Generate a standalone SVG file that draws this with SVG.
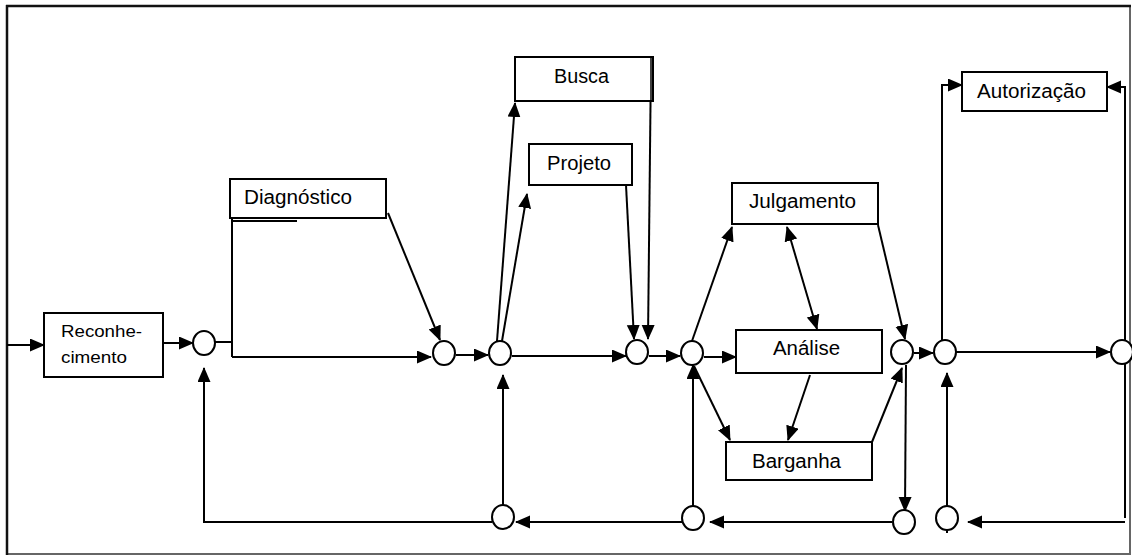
<svg xmlns="http://www.w3.org/2000/svg" width="1132" height="556" viewBox="0 0 1132 556">
  <defs>
    <marker id="arrow" markerUnits="userSpaceOnUse" markerWidth="16" markerHeight="14" refX="14" refY="6.5" orient="auto-start-reverse">
      <path d="M0,0 L15,6.5 L0,13 z" fill="#000"/>
    </marker>
    <style>
      .box { fill: #fff; stroke: #000; stroke-width: 2; }
      .node { fill: #fff; stroke: #000; stroke-width: 2; }
      .lbl { font-family: "Liberation Sans", Arial, sans-serif; font-size: 20px; fill: #000; }
      .small { font-size: 16px; }
      .wire { fill: none; stroke: #000; stroke-width: 2; }
      .arr { marker-end: url(#arrow); }
      .both { marker-start: url(#arrow); marker-end: url(#arrow); }
    </style>
  </defs>
  <rect width="1132" height="556" fill="#fff"/>

  <!-- frame -->
  <g id="frame">
    <line x1="1130" y1="6" x2="1130" y2="555" stroke="#666" stroke-width="2"/>
    <line x1="7" y1="554" x2="1131" y2="554" stroke="#666" stroke-width="2"/>
    <line x1="6" y1="6" x2="1131" y2="6" stroke="#111" stroke-width="2.5"/>
    <line x1="7" y1="5" x2="7" y2="555" stroke="#111" stroke-width="2.5"/>
  </g>

  <!-- connectors -->
  <g id="connectors" class="wire">
    <path class="arr" d="M7,345 H44"/>
    <path class="arr" d="M163,343 H193"/>
    <path d="M215,342 H232 M232,218 V357"/>
    <path class="arr" d="M232,357 H431"/>
    <path d="M232,221 H297"/>
    <path class="arr" d="M388,213 L440,340"/>
    <path class="arr" d="M456,355 H488"/>
    <path class="arr" d="M497,341 L515,103"/>
    <path class="arr" d="M502,341 L527,194"/>
    <path class="arr" d="M512,356 H626"/>
    <path class="arr" d="M626,185 L634,339"/>
    <path class="arr" d="M651,58 L648,339"/>
    <path class="arr" d="M649,356 H680"/>
    <path class="arr" d="M692,341 L732,227"/>
    <path class="arr" d="M704,357 H736"/>
    <path class="both" d="M787,227 L817,329"/>
    <path class="arr" d="M878,225 L905,339"/>
    <path class="arr" d="M694,366 L730,440"/>
    <path class="arr" d="M810,375 L788,440"/>
    <path class="arr" d="M872,442 L902,368"/>
    <path class="arr" d="M914,353 H933"/>
    <path class="arr" d="M906,365 L905,511"/>
    <path class="arr" d="M947,507 V373"/>
    <path class="arr" d="M942,341 V85 H962"/>
    <path class="arr" d="M956,352 H1110"/>
    <path class="arr" d="M1125,518 V87 H1107"/>
    <path class="arr" d="M1125,522 H968"/>
    <path class="arr" d="M892,522 H710"/>
    <path class="arr" d="M682,522 H516"/>
    <path class="arr" d="M693,506 V365"/>
    <path class="arr" d="M503,505 V375"/>
    <path class="arr" d="M492,522 H204 V368"/>
    <path d="M947,530 V533"/>
  </g>

  <!-- junctions -->
  <g id="junctions">
    <ellipse id="j1" class="node" cx="204" cy="343" rx="11" ry="12"/>
    <ellipse id="j2" class="node" cx="444" cy="353" rx="11" ry="12"/>
    <ellipse id="j3" class="node" cx="500" cy="353" rx="11" ry="12"/>
    <ellipse id="j4" class="node" cx="637" cy="352" rx="11" ry="12"/>
    <ellipse id="j5" class="node" cx="692" cy="353" rx="11" ry="12"/>
    <ellipse id="j6" class="node" cx="902" cy="352" rx="11" ry="12"/>
    <ellipse id="j7" class="node" cx="945" cy="352" rx="11" ry="12"/>
    <ellipse id="j8" class="node" cx="1122" cy="352" rx="11" ry="12"/>
    <ellipse id="j9" class="node" cx="503" cy="517" rx="11" ry="12"/>
    <ellipse id="j10" class="node" cx="693" cy="518" rx="11" ry="12"/>
    <ellipse id="j11" class="node" cx="904" cy="522" rx="11" ry="12"/>
    <ellipse id="j12" class="node" cx="947" cy="518" rx="11" ry="12"/>
  </g>

  <g id="reconhecimento">
    <rect class="box" x="44" y="313" width="119" height="64"/>
    <text class="lbl small" x="61" y="337" textLength="81" lengthAdjust="spacingAndGlyphs">Reconhe-</text>
    <text class="lbl small" x="61" y="363" textLength="66" lengthAdjust="spacingAndGlyphs">cimento</text>
  </g>
  <g id="diagnostico">
    <rect class="box" x="230" y="179" width="156" height="39"/>
    <text class="lbl" x="244" y="204" textLength="108" lengthAdjust="spacingAndGlyphs">Diagnóstico</text>
  </g>
  <g id="busca">
    <rect class="box" x="515" y="57" width="138" height="44"/>
    <line x1="651" y1="57" x2="651" y2="101" stroke="#000" stroke-width="1.5"/>
    <text class="lbl" x="554" y="83" textLength="55" lengthAdjust="spacingAndGlyphs">Busca</text>
  </g>
  <g id="projeto">
    <rect class="box" x="529" y="144" width="103" height="41"/>
    <text class="lbl" x="547" y="170" textLength="64" lengthAdjust="spacingAndGlyphs">Projeto</text>
  </g>
  <g id="julgamento">
    <rect class="box" x="732" y="183" width="146" height="41"/>
    <text class="lbl" x="749" y="208" textLength="107" lengthAdjust="spacingAndGlyphs">Julgamento</text>
  </g>
  <g id="analise">
    <rect class="box" x="736" y="330" width="146" height="43"/>
    <text class="lbl" x="773" y="355" textLength="67" lengthAdjust="spacingAndGlyphs">Análise</text>
  </g>
  <g id="barganha">
    <rect class="box" x="726" y="442" width="146" height="38"/>
    <text class="lbl" x="752" y="468" textLength="89" lengthAdjust="spacingAndGlyphs">Barganha</text>
  </g>
  <g id="autorizacao">
    <rect class="box" x="962" y="72" width="145" height="39"/>
    <text class="lbl" x="977" y="98" textLength="109" lengthAdjust="spacingAndGlyphs">Autorização</text>
  </g>
</svg>
